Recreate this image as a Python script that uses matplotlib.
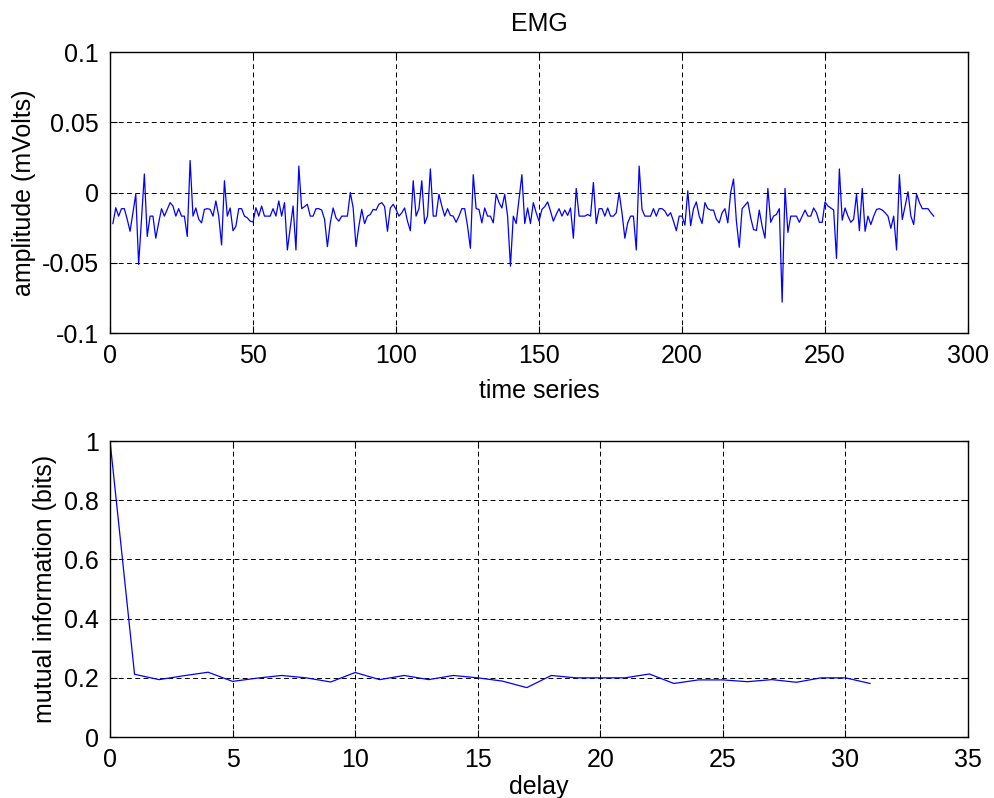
import numpy as np
import matplotlib
matplotlib.use('Agg')
import matplotlib.pyplot as plt
from matplotlib.ticker import FormatStrFormatter

plt.rcParams['font.family'] = ['Liberation Sans', 'DejaVu Sans']

# EMG samples (mVolts)
emg = [
    -0.0221, -0.0108, -0.0168, -0.0115, -0.0115, -0.0190, -0.0276, -0.0144, -0.0012, -0.0512,
    -0.0190, 0.0132, -0.0313, -0.0168, -0.0168, -0.0325, -0.0216, -0.0115, -0.0168, -0.0120,
    -0.0072, -0.0096, -0.0168, -0.0115, -0.0168, -0.0168, -0.0313, 0.0228, -0.0168, -0.0110,
    -0.0190, -0.0216, -0.0120, -0.0115, -0.0120, -0.0168, -0.0060, -0.0168, -0.0373, 0.0084,
    -0.0168, -0.0110, -0.0272, -0.0240, -0.0115, -0.0115, -0.0168, -0.0180, -0.0204, -0.0210,
    -0.0108, -0.0168, -0.0096, -0.0168, -0.0168, -0.0168, -0.0115, -0.0168, -0.0060, -0.0168,
    -0.0072, -0.0409, -0.0250, -0.0096, -0.0409, 0.0188, -0.0115, -0.0100, -0.0084, -0.0168,
    -0.0168, -0.0115, -0.0115, -0.0125, -0.0190, -0.0385, -0.0216, -0.0110, -0.0180, -0.0204,
    -0.0168, -0.0168, -0.0168, 0.0000, -0.0108, -0.0385, -0.0240, -0.0120, -0.0221, -0.0168,
    -0.0156, -0.0120, -0.0125, -0.0084, -0.0072, -0.0100, -0.0276, -0.0110, -0.0084, -0.0120,
    -0.0168, -0.0144, -0.0110, -0.0204, -0.0272, 0.0084, -0.0168, -0.0115, 0.0084, -0.0221,
    -0.0168, 0.0168, -0.0168, -0.0168, -0.0012, -0.0096, -0.0168, -0.0115, -0.0163, -0.0168,
    -0.0212, -0.0168, -0.0115, -0.0115, -0.0240, -0.0397, 0.0127, -0.0115, -0.0120, -0.0216,
    -0.0110, -0.0168, -0.0168, -0.0216, -0.0012, -0.0072, -0.0110, -0.0012, -0.0168, -0.0524,
    -0.0168, -0.0221, -0.0048, 0.0127, -0.0221, -0.0110, -0.0221, -0.0072, -0.0144, -0.0204,
    -0.0120, -0.0100, -0.0067, -0.0132, -0.0204, -0.0156, -0.0115, -0.0168, -0.0125, -0.0163,
    -0.0110, -0.0325, 0.0029, -0.0168, -0.0168, -0.0168, -0.0156, -0.0168, 0.0072, -0.0221,
    -0.0115, -0.0115, -0.0168, -0.0110, -0.0168, -0.0168, -0.0144, 0.0000, -0.0144, -0.0325,
    -0.0216, -0.0168, -0.0168, -0.0409, 0.0188, -0.0120, -0.0168, -0.0168, -0.0168, -0.0115,
    -0.0168, -0.0115, -0.0115, -0.0132, -0.0168, -0.0144, -0.0204, -0.0272, -0.0168, -0.0168,
    -0.0232, 0.0012, -0.0236, -0.0115, -0.0067, -0.0168, -0.0221, -0.0072, -0.0115, -0.0125,
    -0.0125, -0.0190, -0.0216, -0.0144, -0.0115, -0.0216, 0.0000, 0.0096, -0.0204, -0.0390,
    -0.0115, -0.0091, -0.0067, -0.0180, -0.0264, -0.0270, -0.0125, -0.0240, -0.0325, 0.0029,
    -0.0212, -0.0168, -0.0156, -0.0115, -0.0780, 0.0029, -0.0284, -0.0168, -0.0168, -0.0168,
    -0.0212, -0.0168, -0.0125, -0.0168, -0.0168, -0.0110, -0.0144, -0.0212, -0.0212, -0.0067,
    -0.0096, -0.0110, -0.0125, -0.0469, 0.0168, -0.0197, -0.0110, -0.0168, -0.0212, -0.0190,
    -0.0012, -0.0272, 0.0029, -0.0276, -0.0168, -0.0228, -0.0168, -0.0120, -0.0115, -0.0125,
    -0.0144, -0.0168, -0.0255, -0.0168, -0.0409, 0.0127, -0.0192, -0.0096, 0.0005, -0.0168,
    -0.0228, -0.0012, -0.0072, -0.0115, -0.0115, -0.0115, -0.0144, -0.0168,
]

# mutual information vs delay
delays = list(range(0, 32))
mutual_info = [
    1.0, 0.212, 0.194, 0.207, 0.219, 0.188, 0.199, 0.208, 0.200, 0.186,
    0.218, 0.194, 0.208, 0.194, 0.208, 0.200, 0.189, 0.167, 0.208, 0.200,
    0.200, 0.200, 0.213, 0.181, 0.193, 0.193, 0.187, 0.194, 0.185, 0.200,
    0.200, 0.181,
]

fs = 18
fig = plt.figure(figsize=(9.94, 7.98), dpi=100)
ax1 = fig.add_axes([0.1107, 0.5827, 0.8632, 0.3521])
ax2 = fig.add_axes([0.1107, 0.0764, 0.8632, 0.3709])


def matlab_style(ax):
    ax.grid(True, color='black', linestyle=(0, (5, 3.5)), linewidth=0.7)
    ax.tick_params(direction='in', top=True, right=True, length=5,
                   width=0.8, labelsize=fs, pad=8)
    for s in ax.spines.values():
        s.set_linewidth(1.0)
    ax.yaxis.set_major_formatter(FormatStrFormatter('%g'))
    ax.xaxis.set_major_formatter(FormatStrFormatter('%g'))


ax1.plot(np.arange(1, len(emg) + 1), emg, color='#0000ff', linewidth=0.9)
ax1.set_xlim(0, 300)
ax1.set_ylim(-0.1, 0.1)
ax1.set_xticks(np.arange(0, 301, 50))
ax1.set_yticks([-0.1, -0.05, 0, 0.05, 0.1])
matlab_style(ax1)
ax1.set_title('EMG', fontsize=fs, pad=15)
ax1.set_xlabel('time series', fontsize=fs, labelpad=8)
ax1.set_ylabel('amplitude (mVolts)', fontsize=fs, labelpad=4)

ax2.plot(delays, mutual_info, color='#0000ff', linewidth=0.9)
ax2.set_xlim(0, 35)
ax2.set_ylim(0, 1)
ax2.set_xticks(np.arange(0, 36, 5))
ax2.set_yticks(np.arange(0, 1.01, 0.2))
matlab_style(ax2)
ax2.set_xlabel('delay', fontsize=fs, labelpad=2)
ax2.set_ylabel('mutual information (bits)', fontsize=fs, labelpad=5)

fig.savefig('out.png', dpi=100)
